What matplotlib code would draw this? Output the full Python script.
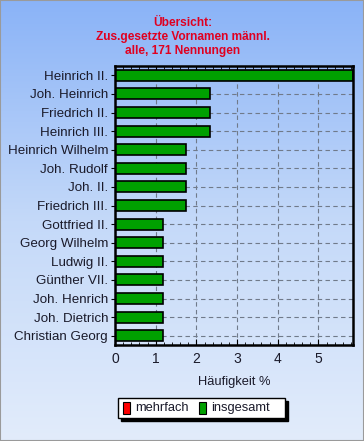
import numpy as np
import matplotlib
matplotlib.use('Agg')
import matplotlib.pyplot as plt
from matplotlib.patches import Rectangle
from matplotlib.colors import LinearSegmentedColormap

plt.rcParams['font.family'] = ['Liberation Sans', 'DejaVu Sans']

names = ["Heinrich II.", "Joh. Heinrich", "Friedrich II.", "Heinrich III.",
         "Heinrich Wilhelm", "Joh. Rudolf", "Joh. II.", "Friedrich III.",
         "Gottfried II.", "Georg Wilhelm", "Ludwig II.", "Günther VII.",
         "Joh. Henrich", "Joh. Dietrich", "Christian Georg"]
insgesamt = [5.85, 2.34, 2.34, 2.34, 1.75, 1.75, 1.75, 1.75,
             1.17, 1.17, 1.17, 1.17, 1.17, 1.17, 1.17]
mehrfach = [0] * len(names)
xticks = [0, 1, 2, 3, 4, 5]

W, H = 364, 441
fig = plt.figure(figsize=(W / 100, H / 100), dpi=100)

# background gradient over the whole figure
bg = fig.add_axes([0, 0, 1, 1], zorder=-10)
cmap = LinearSegmentedColormap.from_list('bg', ['#8ab3f7', '#c4d9f9', '#e2ecfb'])
grad = np.linspace(0, 1, 256).reshape(-1, 1)
bg.imshow(grad, aspect='auto', cmap=cmap, extent=[0, 1, 0, 1], origin='upper')
bg.add_patch(Rectangle((0, 0), 1, 1, fill=False, ec='#9a9a9a', lw=1.5,
                       transform=bg.transAxes))
bg.set_axis_off()

ax = fig.add_axes([115 / W, 1 - 345 / H, 238 / W, 279 / H])
ax.patch.set_alpha(0)
y = np.arange(len(names))
ax.barh(y, insgesamt, height=0.6, color='#00a000', edgecolor='black', lw=1.2, zorder=3)
ax.set_ylim(len(names) - 0.5, -0.5)
ax.set_xlim(0, 5.85)
ax.set_yticks(y)
ax.set_yticklabels(names, fontsize=9.6, color='#1a1a2a')
ax.set_xticks(xticks)
ax.set_xticklabels([str(t) for t in xticks], fontsize=10, color='#1a1a2a')
ax.set_xticks(np.arange(0, 5.85, 0.2), minor=True)
ax.tick_params(axis='x', which='both', direction='in', top=True, pad=5)
ax.tick_params(axis='x', which='major', length=4)
ax.tick_params(axis='x', which='minor', length=2)
ax.tick_params(axis='y', direction='out', length=3, pad=2)
ax.grid(True, ls=(0, (4, 3)), color='#707a8a', lw=0.8, zorder=1)
for s in ax.spines.values():
    s.set_linewidth(1.8)
    s.set_zorder(5)
ax.set_xlabel('Häufigkeit %', fontsize=9.3, color='#1a1a2a', labelpad=7)

fig.text(183 / W, 1 - 37 / H, 'Übersicht:\nZus.gesetzte Vornamen männl.\nalle, 171 Nennungen',
         ha='center', va='center', color='#e00020', fontsize=8.6, fontweight='bold',
         linespacing=1.25)

# legend box with shadow
lx0, ly0, lw_, lh = 118, 398, 167, 20
fig.patches.append(Rectangle(((lx0 + 3) / W, 1 - (ly0 + lh + 3) / H), lw_ / W, lh / H,
                             transform=fig.transFigure, color='black', zorder=1))
fig.patches.append(Rectangle((lx0 / W, 1 - (ly0 + lh) / H), lw_ / W, lh / H,
                             transform=fig.transFigure, fc='white', ec='black', lw=1, zorder=2))
for xs, col, lab in [(123, '#ff0000', 'mehrfach'), (199, '#00a000', 'insgesamt')]:
    fig.patches.append(Rectangle((xs / W, 1 - 414 / H), 7 / W, 12 / H,
                                 transform=fig.transFigure, fc=col, ec='black', lw=0.8, zorder=3))
    fig.text((xs + 12) / W, 1 - 408 / H, lab, fontsize=9.3, va='center', ha='left',
             color='#1a1a2a', zorder=4)

fig.savefig('out.png', dpi=100)
